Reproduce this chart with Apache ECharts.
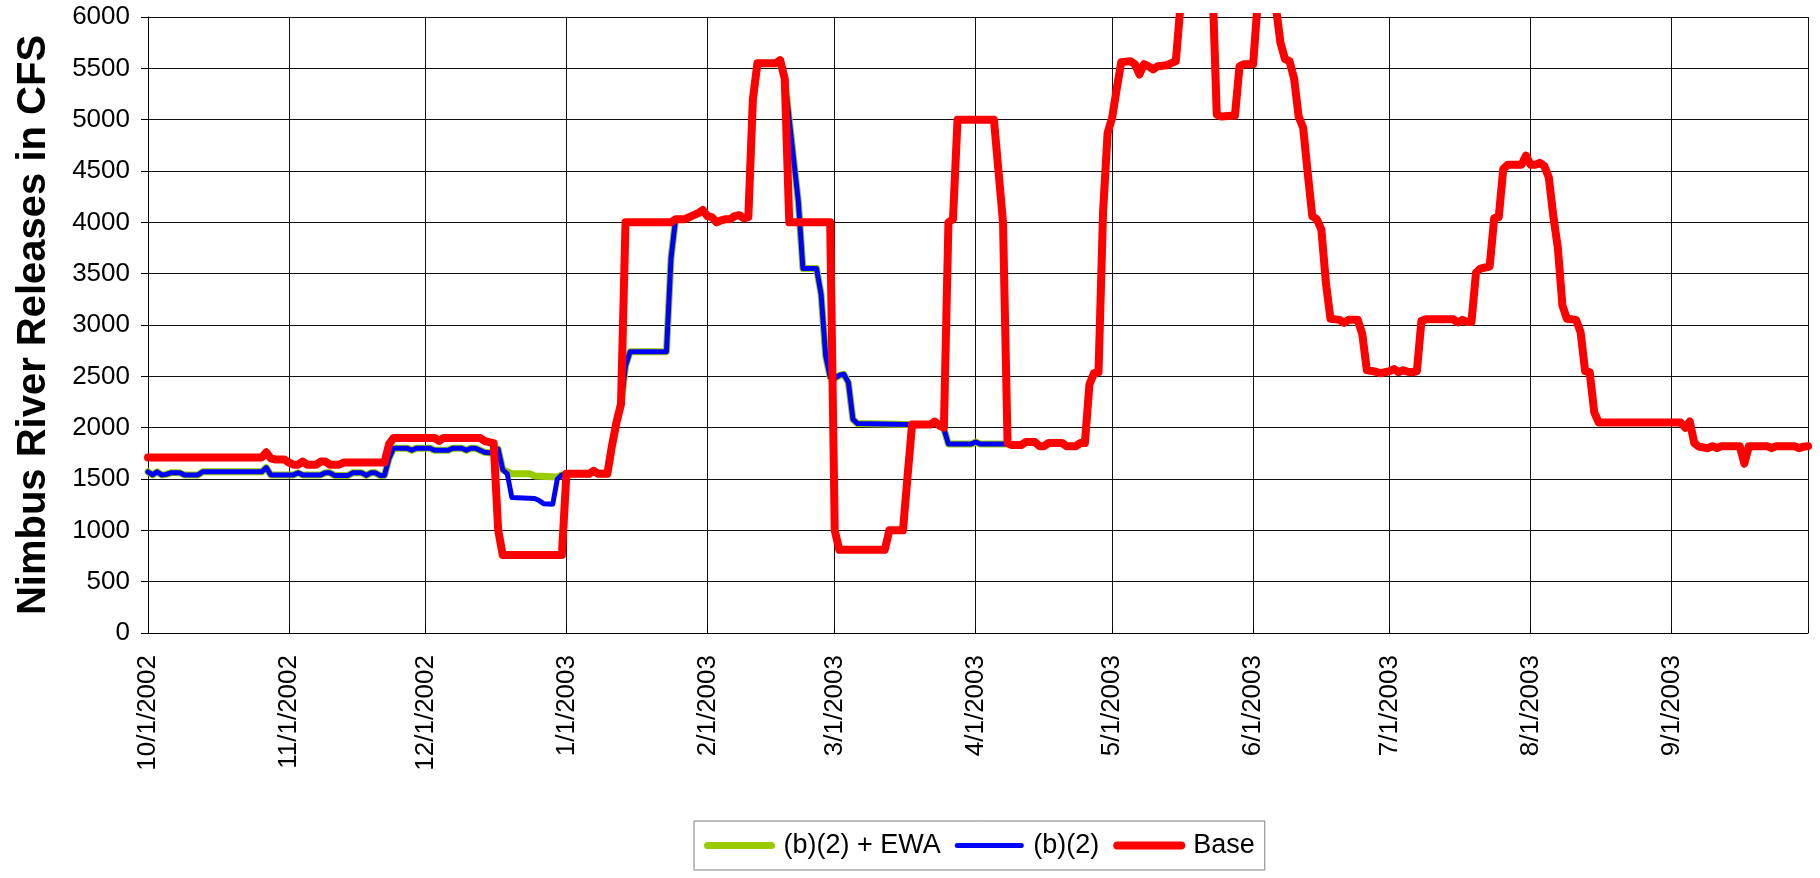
<!DOCTYPE html>
<html><head><meta charset="utf-8">
<script src="https://cdn.jsdelivr.net/npm/echarts@6/dist/echarts.min.js"></script>
<style>html,body{margin:0;padding:0;background:#fff}#c{width:1820px;height:878px}</style>
</head><body><div id="c"></div>
<script>
// x values are days since 10/1/2002
const monthTickDays = [0,31,61,92,123,151,182,212,243,273,304,335];
const monthLabels = ['10/1/2002','11/1/2002','12/1/2002','1/1/2003','2/1/2003','3/1/2003','4/1/2003','5/1/2003','6/1/2003','7/1/2003','8/1/2003','9/1/2003'];
const gridDays = [0,31,61,92,123,151,182,212,243,273,304,335,365];
const seriesNames = ['(b)(2) + EWA','(b)(2)','Base'];

// Base, Oct - early Apr
const baseDays = [0,25,26,27,28,30,31,32,33,34,35,37,38,39,40,42,43,52,53,54,63,64,65,73,74,75,76,77,78,91,92,97,98,99,101,102,103,104,105,115,116,118,120,121,122,123,124,125,126,127,128,129,130,131,132,133,134,138,139,140,141,150,151,152,162,163,166,167,168,172,173,174,175,176,177,178,186,187,188,189];
const baseVals = [1710,1710,1760,1700,1690,1690,1660,1640,1640,1670,1640,1640,1670,1670,1640,1640,1660,1660,1840,1900,1900,1870,1900,1900,1870,1860,1850,1000,760,760,1550,1550,1580,1550,1550,1820,2050,2230,4000,4000,4030,4030,4070,4090,4120,4060,4050,4000,4020,4030,4030,4060,4070,4040,4050,5200,5550,5550,5580,5400,4000,4000,1000,810,810,1000,1000,1520,2030,2030,2060,2020,2000,4000,4030,5000,5000,4500,4000,1850];

// (b)(2), Oct - early Apr
const b2Days = [0,1,2,3,4,5,7,8,11,12,25,26,27,32,33,34,38,39,40,41,44,45,47,48,49,50,51,52,53,54,57,58,59,62,63,66,67,69,70,71,72,73,74,75,76,77,78,79,80,85,86,87,89,90,91,92,97,98,99,101,102,103,104,105,106,114,115,116,118,120,121,122,123,124,125,126,127,128,129,130,131,132,133,134,138,139,140,141,142,143,144,147,148,149,150,151,152,153,154,155,156,167,168,172,173,174,175,176,181,182,183,189];
const b2Vals = [1570,1540,1570,1540,1545,1560,1560,1540,1540,1570,1570,1610,1540,1540,1560,1540,1540,1560,1560,1535,1535,1560,1560,1535,1560,1560,1535,1535,1700,1800,1800,1780,1800,1800,1780,1780,1800,1800,1780,1800,1800,1780,1760,1755,1760,1790,1590,1550,1320,1310,1290,1260,1255,1500,1540,1550,1550,1580,1550,1550,1820,2050,2230,2600,2740,2740,3650,4030,4030,4070,4090,4120,4060,4050,4000,4020,4030,4030,4060,4070,4040,4050,5200,5550,5550,5580,5400,5000,4600,4200,3550,3550,3300,2700,2490,2480,2510,2520,2440,2080,2040,2030,2030,2030,2060,2020,1990,1840,1840,1860,1840,1840];

// (b)(2) + EWA, Oct - early Apr
const ewaDays = [0,1,2,3,4,5,7,8,11,12,25,26,27,32,33,34,38,39,40,41,44,45,47,48,49,50,51,52,53,54,57,58,59,62,63,66,67,69,70,71,72,73,74,75,76,77,78,79,80,84,85,90,91,92,97,98,99,101,102,103,104,105,106,114,115,116,118,120,121,122,123,124,125,126,127,128,129,130,131,132,133,134,138,139,140,141,142,143,144,147,148,149,150,151,152,153,154,155,156,167,168,172,173,174,175,176,181,182,183,189];
const ewaVals = [1570,1540,1570,1540,1545,1560,1560,1540,1540,1570,1570,1610,1540,1540,1560,1540,1540,1560,1560,1535,1535,1560,1560,1535,1560,1560,1535,1535,1700,1800,1800,1780,1800,1800,1780,1780,1800,1800,1780,1800,1800,1780,1760,1755,1760,1790,1590,1570,1550,1550,1530,1520,1540,1550,1550,1580,1550,1550,1820,2050,2230,2600,2740,2740,3650,4030,4030,4070,4090,4120,4060,4050,4000,4020,4030,4030,4060,4070,4040,4050,5200,5550,5550,5580,5400,5000,4600,4200,3550,3550,3300,2700,2490,2480,2510,2520,2440,2080,2040,2030,2030,2030,2060,2020,1990,1840,1840,1860,1840,1840];

// April - September: all three runs coincide
const laterDays = [190,192,193,195,196,197,198,201,202,204,205,206,207,208,209,210,211,212,213,214,216,217,218,219,220,221,222,224,225,226,227,230,234,235,236,239,240,241,243,244,246,248,249,250,251,252,253,254,255,256,257,258,259,260,262,263,264,266,267,268,270,271,273,274,275,276,277,278,279,280,281,287,288,289,290,291,292,293,294,295,296,297,298,299,302,303,304,305,306,307,308,309,310,311,312,314,315,316,317,318,319,337,338,339,340,341,343,344,345,346,350,351,352,356,357,358,362,363,364,365];
const laterVals = [1830,1830,1860,1860,1820,1820,1850,1850,1820,1820,1850,1850,2420,2530,2540,4100,4870,5020,5300,5560,5570,5540,5440,5540,5520,5490,5520,5530,5550,5570,6100,6500,6400,5050,5030,5040,5520,5540,5540,6150,6400,6100,5750,5590,5570,5400,5030,4920,4480,4060,4030,3930,3410,3060,3050,3020,3050,3050,2910,2560,2545,2530,2550,2570,2540,2560,2545,2540,2550,3040,3055,3055,3025,3050,3030,3030,3510,3550,3560,3570,4040,4050,4520,4560,4560,4650,4560,4560,4580,4550,4440,4060,3750,3190,3060,3050,2930,2550,2540,2150,2050,2050,2000,2060,1850,1815,1800,1820,1800,1820,1820,1650,1820,1820,1800,1820,1820,1800,1815,1820];

const FONT = 'Liberation Sans, Arial, sans-serif';
function pairs(days, vals) { return days.map((d, i) => [d, vals[i]]); }
const ewaData = pairs(ewaDays, ewaVals).concat(pairs(laterDays, laterVals));
const b2Data = pairs(b2Days, b2Vals).concat(pairs(laterDays, laterVals));
const baseData = pairs(baseDays, baseVals).concat(pairs(laterDays, laterVals));

const chart = echarts.init(document.getElementById('c'), null, {renderer: 'canvas'});
chart.setOption({
  animation: false,
  backgroundColor: '#ffffff',
  grid: {left: 148, right: 12, top: 17, bottom: 245, outerBoundsMode: 'none', containLabel: false},
  legend: {
    left: 694, top: 821, orient: 'horizontal',
    data: seriesNames,
    itemWidth: 64, itemHeight: 2, itemGap: 14,
    padding: [11, 10, 11, 10],
    borderColor: '#7f7f7f', borderWidth: 1,
    lineStyle: {width: 'inherit', cap: 'round'},
    textStyle: {fontSize: 27, color: '#000', fontFamily: FONT, padding: [0, 0, 0, 7]}
  },
  xAxis: {
    type: 'value', min: 0, max: 365,
    axisLine: {show: true, onZero: false, lineStyle: {color: '#000', width: 1}},
    axisTick: {show: true, customValues: gridDays, inside: true, length: 5, lineStyle: {color: '#000'}},
    splitLine: {show: true, lineStyle: {color: '#111', width: 1}},
    axisLabel: {
      customValues: monthTickDays,
      formatter: function (v) { const i = monthTickDays.indexOf(v); return i >= 0 ? monthLabels[i] : ''; },
      rotate: 90, margin: 22, fontSize: 26, color: '#000', fontFamily: FONT
    }
  },
  yAxis: {
    type: 'value', min: 0, max: 6000, interval: 500,
    name: 'Nimbus River Releases in CFS', nameLocation: 'middle', nameGap: 94,
    nameTextStyle: {fontSize: 40, fontWeight: 'bold', color: '#000', fontFamily: FONT},
    axisLine: {show: true, lineStyle: {color: '#000', width: 1}},
    axisTick: {show: true, length: 7, lineStyle: {color: '#000'}},
    splitLine: {show: true, lineStyle: {color: '#111', width: 1}},
    axisLabel: {margin: 18, fontSize: 26, color: '#000', fontFamily: FONT,
      formatter: function (v) { return String(v); }}
  },
  series: [
    {name: seriesNames[0], type: 'line', data: ewaData, symbol: 'none', showSymbol: false, clip: true,
     lineStyle: {color: '#99cc00', width: 7, join: 'round', cap: 'round'}, itemStyle: {color: '#99cc00'}, emphasis: {disabled: true}, z: 2},
    {name: seriesNames[1], type: 'line', data: b2Data, symbol: 'none', showSymbol: false, clip: true,
     lineStyle: {color: '#0000ff', width: 5, join: 'round', cap: 'round'}, itemStyle: {color: '#0000ff'}, emphasis: {disabled: true}, z: 3},
    {name: seriesNames[2], type: 'line', data: baseData, symbol: 'none', showSymbol: false, clip: true,
     lineStyle: {color: '#ff0000', width: 8, join: 'round', cap: 'round'}, itemStyle: {color: '#ff0000'}, emphasis: {disabled: true}, z: 4}
  ]
});
</script></body></html>
